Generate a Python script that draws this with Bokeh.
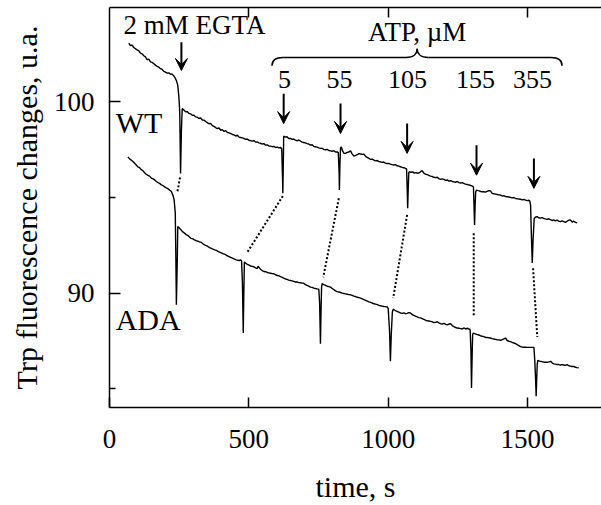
from bokeh.plotting import figure
from bokeh.models import Range1d, FixedTicker, LinearAxis, Label, Arrow, VeeHead
from bokeh.embed import file_html
from bokeh.resources import INLINE

FONT = "Liberation Serif"

# ---- data (time s, fluorescence u.a.) ----
wt_points = [
    (69, 103.08), (75, 102.95), (81, 102.98), (87, 102.85), (93, 102.79), (99, 102.72),
    (105, 102.68), (111, 102.56), (117, 102.52), (123, 102.42), (129, 102.36), (135, 102.21),
    (141, 102.24), (147, 102.10), (153, 102.07), (159, 102.00), (165, 101.93), (171, 101.86),
    (177, 101.82), (183, 101.74), (189, 101.70), (195, 101.60), (201, 101.56), (207, 101.51),
    (213, 101.52), (219, 101.46), (225, 101.45), (231, 101.36), (237, 101.22), (241, 101.08),
    (245, 100.87), (249, 100.26), (252, 99.5), (255, 96.26), (258, 98.5), (261, 99.66),
    (267, 99.58), (273, 99.48), (279, 99.50), (285, 99.40), (291, 99.38), (297, 99.30),
    (303, 99.31), (309, 99.22), (315, 99.20), (321, 99.14), (327, 99.16), (333, 99.06),
    (339, 99.05), (345, 98.98), (351, 98.92), (357, 98.86), (363, 98.88), (369, 98.76),
    (375, 98.72), (381, 98.66), (387, 98.61), (393, 98.64), (399, 98.52), (405, 98.55),
    (411, 98.46), (417, 98.50), (423, 98.40), (429, 98.38), (435, 98.35), (441, 98.30),
    (447, 98.28), (453, 98.22), (459, 98.26), (465, 98.16), (471, 98.14), (477, 98.12),
    (482, 98.09), (488, 98.04), (494, 98.06), (500, 98.00), (506, 97.98), (512, 97.95),
    (518, 97.98), (524, 97.90), (530, 97.91), (536, 97.86), (542, 97.84), (548, 97.80),
    (554, 97.82), (560, 97.74), (566, 97.75), (572, 97.70), (578, 97.69), (584, 97.66),
    (590, 97.68), (596, 97.62), (602, 97.64), (608, 97.60), (614, 97.62), (618, 97.55),
    (621, 96.0), (622, 95.22), (624, 97.0), (625, 98.21),
    (631, 98.16), (637, 98.18), (643, 98.09), (649, 98.09), (655, 98.04), (661, 98.06),
    (667, 98.00), (673, 97.97), (679, 98.01), (685, 97.96), (691, 97.90), (697, 97.88),
    (703, 97.86), (709, 97.82), (715, 97.80), (721, 97.74), (727, 97.76), (733, 97.68),
    (739, 97.66), (745, 97.64), (751, 97.60), (757, 97.57), (763, 97.58), (769, 97.52),
    (775, 97.50), (781, 97.52), (787, 97.46), (793, 97.44), (799, 97.42), (805, 97.45),
    (811, 97.38), (817, 97.39), (821, 97.35), (824, 96.3), (825, 95.39), (827, 96.8),
    (829, 97.60), (832, 97.65), (836, 97.45), (841, 97.32), (847, 97.31), (853, 97.36),
    (859, 97.38), (865, 97.44), (870, 97.30), (877, 97.17), (883, 97.20), (889, 97.24),
    (895, 97.30), (901, 97.28), (907, 97.26), (913, 97.27), (919, 97.15), (925, 97.10),
    (931, 97.05), (937, 96.99), (943, 97.01), (949, 96.95), (955, 96.92), (961, 96.94),
    (967, 96.88), (972, 96.87), (978, 96.84), (984, 96.86), (990, 96.80), (996, 96.78),
    (1002, 96.79), (1008, 96.75), (1014, 96.72), (1020, 96.70), (1026, 96.72), (1032, 96.66),
    (1038, 96.64), (1044, 96.61), (1050, 96.58), (1056, 96.56), (1062, 96.52), (1066, 96.50),
    (1068, 95.6), (1070, 94.44), (1072, 95.5), (1074, 96.30), (1076, 96.35),
    (1082, 96.32), (1088, 96.34), (1094, 96.28), (1100, 96.30), (1106, 96.26), (1112, 96.30),
    (1118, 96.38), (1122, 96.40), (1128, 96.28), (1134, 96.22), (1140, 96.20), (1146, 96.16),
    (1152, 96.12), (1158, 96.10), (1164, 96.06), (1170, 96.04), (1176, 96.06), (1182, 95.99),
    (1188, 95.95), (1194, 95.98), (1200, 95.95), (1206, 95.90), (1212, 95.92), (1218, 95.86),
    (1224, 95.88), (1230, 95.84), (1236, 95.82), (1242, 95.80), (1248, 95.84), (1254, 95.78),
    (1260, 95.76), (1266, 95.78), (1271, 95.74), (1277, 95.70), (1283, 95.68), (1289, 95.66),
    (1295, 95.64), (1302, 95.60), (1306, 95.55), (1308, 94.6), (1310, 93.56), (1312, 94.6),
    (1314, 95.3), (1317, 95.39), (1323, 95.36), (1329, 95.34), (1335, 95.30), (1343, 95.30),
    (1349, 95.28), (1355, 95.32), (1361, 95.36), (1367, 95.35), (1373, 95.22), (1379, 95.20),
    (1385, 95.18), (1391, 95.16), (1397, 95.14), (1403, 95.13), (1409, 95.08), (1415, 95.10),
    (1421, 95.05), (1427, 95.04), (1433, 95.03), (1439, 95.01), (1445, 94.98), (1451, 95.00),
    (1457, 94.95), (1463, 94.94), (1469, 94.92), (1475, 94.91), (1481, 94.88), (1487, 94.90),
    (1493, 94.86), (1499, 94.84), (1505, 94.86), (1508, 94.83), (1511, 94.6), (1514, 93.0),
    (1517, 91.57), (1520, 92.8), (1524, 93.9), (1528, 93.97), (1534, 94.00), (1540, 93.94),
    (1546, 93.92), (1552, 93.95), (1558, 93.91), (1564, 93.88), (1570, 93.86), (1576, 93.89),
    (1582, 93.84), (1588, 93.80), (1594, 93.83), (1600, 93.78), (1606, 93.82), (1612, 93.76),
    (1618, 93.74), (1624, 93.78), (1630, 93.74), (1636, 93.70), (1642, 93.76), (1648, 93.82),
    (1654, 93.83), (1660, 93.72), (1666, 93.76), (1672, 93.70), (1678, 93.68),
]

ada_points = [
    (66, 97.13), (72, 97.02), (78, 96.96), (84, 96.88), (90, 96.80), (96, 96.70),
    (102, 96.60), (108, 96.56), (114, 96.46), (120, 96.40), (126, 96.30), (132, 96.22),
    (138, 96.16), (144, 96.12), (150, 96.02), (156, 95.98), (162, 95.92), (168, 95.84),
    (174, 95.78), (180, 95.74), (186, 95.66), (192, 95.62), (198, 95.56), (204, 95.50),
    (210, 95.46), (216, 95.38), (222, 95.32), (228, 95.10), (232, 94.87), (236, 94.2),
    (238, 92.0), (240, 89.39), (243, 91.5), (245, 93.48),
    (251, 93.40), (257, 93.30), (263, 93.20), (269, 93.14), (275, 93.06), (281, 93.02),
    (287, 92.94), (293, 92.86), (299, 92.84), (305, 92.78), (311, 92.74), (317, 92.72),
    (323, 92.68), (329, 92.66), (335, 92.58), (341, 92.52), (347, 92.48), (353, 92.44),
    (359, 92.38), (365, 92.34), (371, 92.30), (377, 92.26), (383, 92.24), (389, 92.18),
    (395, 92.14), (401, 92.10), (407, 92.06), (413, 92.04), (419, 91.98), (425, 91.94),
    (431, 91.90), (437, 91.86), (443, 91.82), (449, 91.78), (455, 91.74), (461, 91.72),
    (466, 91.70), (470, 91.74), (474, 91.68), (477, 90.5), (480, 87.91), (482, 90.0),
    (484, 91.62), (487, 91.58),
    (493, 91.52), (499, 91.48), (506, 91.42), (512, 91.40), (518, 91.38), (524, 91.32),
    (530, 91.28), (533, 91.40), (536, 91.36), (542, 91.24), (548, 91.18), (554, 91.13),
    (560, 91.12), (566, 91.08), (572, 91.06), (578, 91.04), (584, 91.02), (590, 91.01),
    (596, 90.96), (602, 90.92), (608, 90.90), (614, 90.86), (620, 90.82), (625, 90.78),
    (631, 90.74), (637, 90.72), (643, 90.68), (649, 90.66), (655, 90.64), (661, 90.61),
    (667, 90.58), (673, 90.58), (679, 90.55), (685, 90.54), (691, 90.52), (697, 90.52),
    (703, 90.44), (709, 90.40), (715, 90.36), (721, 90.31), (727, 90.30), (733, 90.26),
    (739, 90.24), (745, 90.22), (751, 90.21), (754, 89.5), (757, 87.35), (759, 89.0),
    (761, 90.3), (763, 90.49),
    (769, 90.44), (775, 90.40), (781, 90.36), (787, 90.34), (793, 90.31), (799, 90.24),
    (805, 90.18), (811, 90.12), (817, 90.08), (823, 90.06), (829, 90.03), (835, 90.00),
    (841, 89.98), (847, 89.96), (853, 89.94), (859, 89.92), (865, 89.91), (871, 89.88),
    (877, 89.84), (883, 89.82), (889, 89.78), (895, 89.76), (901, 89.74), (907, 89.70),
    (913, 89.66), (919, 89.62), (925, 89.58), (931, 89.54), (937, 89.51), (943, 89.48),
    (949, 89.44), (955, 89.42), (961, 89.40), (967, 89.36), (972, 89.34), (978, 89.32),
    (984, 89.30), (990, 89.29), (997, 89.27), (1000, 89.2), (1005, 88.0), (1008, 86.43),
    (1011, 87.8), (1015, 89.0), (1018, 89.16),
    (1024, 89.10), (1030, 89.06), (1036, 89.02), (1044, 88.96), (1050, 88.94), (1056, 88.96),
    (1062, 88.92), (1068, 88.94), (1074, 88.98), (1080, 88.96), (1086, 88.88), (1092, 88.84),
    (1098, 88.80), (1104, 88.76), (1110, 88.72), (1116, 88.70), (1122, 88.66), (1128, 88.62),
    (1134, 88.58), (1140, 88.55), (1146, 88.54), (1152, 88.52), (1158, 88.50), (1164, 88.46),
    (1170, 88.47), (1176, 88.50), (1182, 88.44), (1188, 88.40), (1194, 88.38), (1200, 88.42),
    (1206, 88.36), (1212, 88.34), (1218, 88.38), (1224, 88.40), (1230, 88.30), (1236, 88.24),
    (1242, 88.20), (1248, 88.17), (1254, 88.16), (1260, 88.14), (1266, 88.12), (1272, 88.18),
    (1278, 88.12), (1284, 88.16), (1290, 88.12), (1294, 88.10), (1297, 87.0), (1299, 85.04),
    (1301, 86.5), (1303, 87.8), (1305, 87.91),
    (1311, 87.88), (1317, 87.84), (1323, 87.82), (1331, 87.77), (1337, 87.74), (1343, 87.72),
    (1349, 87.68), (1355, 87.68), (1361, 87.66), (1367, 87.65), (1373, 87.62), (1379, 87.60),
    (1385, 87.58), (1391, 87.56), (1397, 87.55), (1403, 87.53), (1409, 87.56), (1415, 87.60),
    (1421, 87.65), (1427, 87.52), (1433, 87.48), (1439, 87.46), (1445, 87.42), (1451, 87.39),
    (1457, 87.36), (1463, 87.30), (1469, 87.25), (1475, 87.20), (1481, 87.18), (1487, 87.17),
    (1493, 87.17), (1499, 87.16), (1505, 87.16), (1511, 87.16), (1517, 87.16), (1523, 87.16),
    (1526, 86.5), (1529, 85.5), (1531, 84.60), (1533, 85.5), (1535, 86.3), (1537, 86.48),
    (1543, 86.44), (1549, 86.42), (1555, 86.40), (1561, 86.38), (1567, 86.38), (1571, 86.38),
    (1577, 86.40), (1583, 86.43), (1589, 86.34), (1595, 86.30), (1601, 86.28), (1606, 86.26),
    (1612, 86.26), (1618, 86.24), (1624, 86.26), (1630, 86.24), (1636, 86.22), (1642, 86.26),
    (1648, 86.20), (1654, 86.18), (1660, 86.16), (1666, 86.16), (1672, 86.12), (1678, 86.10),
    (1684, 86.09),
]

# additions
egta_time = 258
egta_arrow = (103.13, 101.65)
atp_doses = ["5", "55", "105", "155", "355"]
atp_times = [625, 829, 1068, 1317, 1523]
atp_arrow_tip = [98.87, 98.35, 97.31, 96.17, 95.48]
atp_label_times = [628, 825, 1069, 1313, 1518]

# dotted connectors: WT spike bottom -> ADA trace
link_wt_t = [253, 622, 823, 1068, 1307, 1520]
link_wt_v = [96.05, 95.08, 94.96, 94.09, 93.13, 91.30]
link_ada_t = [243, 494, 767, 1018, 1307, 1535]
link_ada_v = [95.25, 92.12, 90.83, 89.74, 88.75, 87.70]

x_ticks = [0, 500, 1000, 1500]
top_ticks = [500, 1000, 1500]
y_ticks = [90, 100]
y_minor = [85, 95]

p = figure(width=601, height=505, output_backend="svg", toolbar_location=None,
           x_range=Range1d(0, 1765.5), y_range=Range1d(84.014, 104.943),
           min_border_left=109, min_border_right=0, min_border_top=7, min_border_bottom=97)
p.outline_line_color = None
p.xgrid.visible = False
p.ygrid.visible = False
p.background_fill_color = "white"
p.border_fill_color = "white"

def style_axis(ax, tick_in, minor_in):
    ax.axis_line_width = 1.5
    ax.axis_line_color = "black"
    ax.major_tick_in = tick_in
    ax.major_tick_out = 0
    ax.minor_tick_in = minor_in
    ax.minor_tick_out = 0
    ax.major_tick_line_width = 1.5
    ax.minor_tick_line_width = 1.5
    ax.major_label_text_font = FONT
    ax.major_label_text_font_size = "27px"
    ax.major_label_text_color = "black"
    ax.axis_label_text_font = FONT
    ax.axis_label_text_font_style = "normal"
    ax.axis_label_text_color = "black"

p.xaxis.ticker = FixedTicker(ticks=x_ticks, minor_ticks=[])
p.yaxis.ticker = FixedTicker(ticks=y_ticks, minor_ticks=y_minor)
style_axis(p.xaxis[0], 10, 0)
style_axis(p.yaxis[0], 11, 6)
p.xaxis.axis_label = "time, s"
p.xaxis.axis_label_text_font_size = "30px"
p.xaxis.major_label_standoff = 22
p.xaxis.axis_label_standoff = 19
p.yaxis.axis_label = "Trp fluorescence changes, u.a."
p.yaxis.axis_label_text_font_size = "30px"
p.yaxis.major_label_standoff = 15
p.yaxis.axis_label_standoff = 8

# top frame line with inward ticks (unlabelled: ticks given as minor ticks)
top = LinearAxis(ticker=FixedTicker(ticks=[], minor_ticks=top_ticks))
style_axis(top, 0, 10)
p.add_layout(top, "above")

# traces
p.line([t for t, v in wt_points], [v for t, v in wt_points], line_color="black", line_width=1.4)
p.line([t for t, v in ada_points], [v for t, v in ada_points], line_color="black", line_width=1.4)

# dotted connectors
p.segment(link_wt_t, link_wt_v, link_ada_t, link_ada_v, line_color="black",
          line_width=2, line_dash="2 2")

# arrows
head = dict(size=12, fill_color="black", line_color="black", line_width=1)
p.add_layout(Arrow(end=VeeHead(**head), x_start=egta_time, y_start=egta_arrow[0],
                   x_end=egta_time, y_end=egta_arrow[1], line_width=2))
for t, tip in zip(atp_times, atp_arrow_tip):
    p.add_layout(Arrow(end=VeeHead(**head), x_start=t, y_start=tip + 1.566,
                       x_end=t, y_end=tip, line_width=2))

# labels
def add_label(x, y, text, size, align="left"):
    p.add_layout(Label(x=x, y=y, text=text, text_font=FONT, text_font_size=size,
                       text_align=align, text_baseline="alphabetic", text_color="black"))

add_label(305, 104.04, "2 mM EGTA", "27px", "center")
add_label(1104, 103.64, "ATP, \u00b5M", "27px", "center")
for t, d in zip(atp_label_times, atp_doses):
    add_label(t, 101.17, d, "26px", "center")
add_label(22, 98.90, "WT", "30px")
add_label(22, 88.64, "ADA", "30px")

# brace over the ATP additions
brace_y_tip, brace_y_bar, brace_y_peak = 101.9, 102.33, 102.79
bl, bm, br = 583, 1104, 1624
p.bezier(x0=[bl, bm - 40, bm, br - 40], y0=[brace_y_tip, brace_y_bar, brace_y_peak, brace_y_bar],
         x1=[bl + 40, bm, bm + 40, br], y1=[brace_y_bar, brace_y_peak, brace_y_bar, brace_y_tip],
         cx0=[bl, bm - 12, bm, br - 14], cy0=[brace_y_tip + 0.3, brace_y_bar, brace_y_peak - 0.25, brace_y_bar],
         cx1=[bl + 14, bm, bm + 12, br], cy1=[brace_y_bar, brace_y_peak - 0.25, brace_y_bar, brace_y_tip + 0.3],
         line_color="black", line_width=1.5)
p.segment(x0=[bl + 40, bm + 40], y0=[brace_y_bar, brace_y_bar],
          x1=[bm - 40, br - 40], y1=[brace_y_bar, brace_y_bar], line_color="black", line_width=1.5)

open("out.html", "w").write(file_html(p, INLINE))
